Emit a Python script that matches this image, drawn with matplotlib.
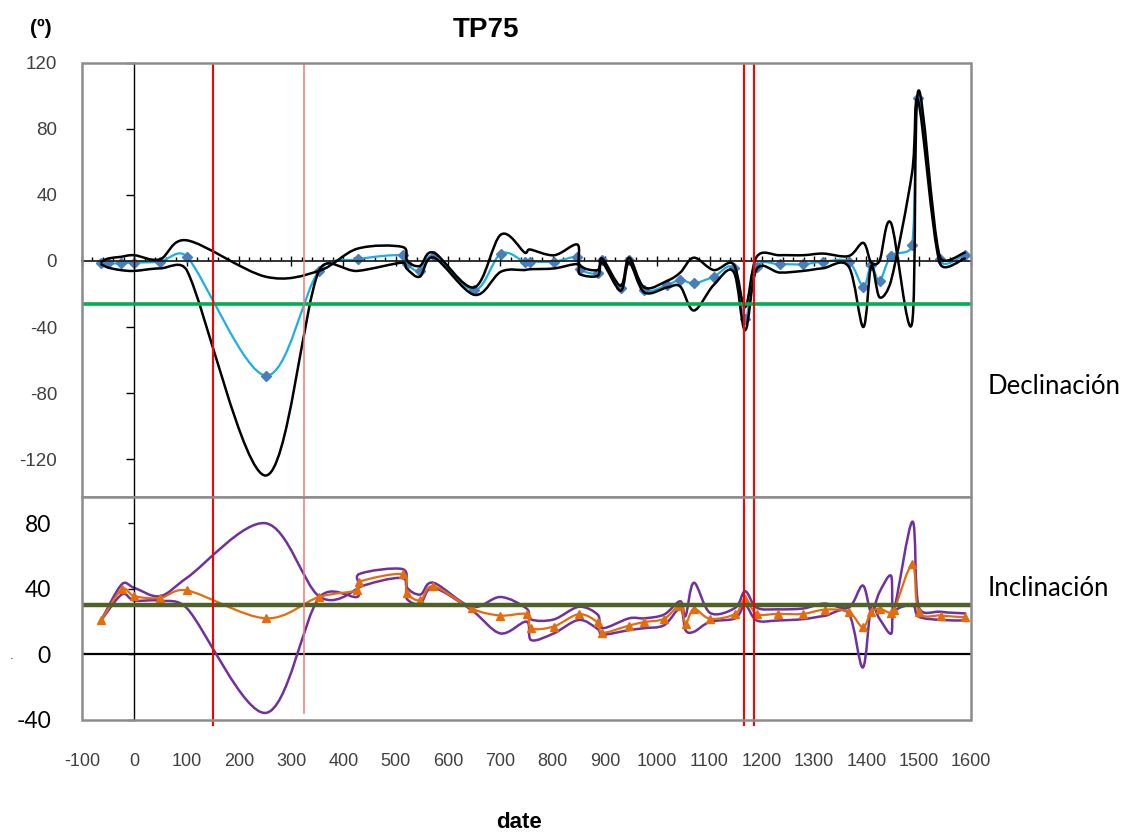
import matplotlib
matplotlib.use("Agg")
import matplotlib.pyplot as plt
import numpy as np
from matplotlib.path import Path
from matplotlib.patches import PathPatch, Rectangle

plt.rcParams['axes.unicode_minus'] = False

# Declination (top panel)
dec_dates = [-63, -50, -26, 0, 49, 101, 251, 353, 427, 513, 522, 546, 573, 650, 701, 747, 756, 803, 847,
             852, 886, 895, 930, 946, 975, 1019, 1044, 1070, 1108, 1146, 1168, 1190, 1234, 1279, 1317,
             1366, 1394, 1409, 1425, 1447, 1487, 1499, 1540, 1588]
dec = [-1, -1.4, -1.4, -1, -0.4, 2.4, -69.4, -6, 1, 3.5, -2, -6, 3, -17.7, 4.5, -0.8, -0.4, -0.4, 2.4,
       -5, -7.5, 0.5, -16.5, 0.6, -17.6, -14.5, -11.4, -13.5, -9.5, -4.4, -35, -3.4, -2, -2, -0.4,
       -0.4, -15.5, -2.6, -12, 3, 9.7, 99, 1, 3.6]
dec_a = [-0.5, 1.5, 2.5, 3.5, 1, 12.5, -9.5, -6, 7.5, 8.5, 0, -3, 5, -16, 16, 5, 7, 3.5, 10,
         -2.5, -5.5, 1.5, -15, 2, -16, -12, -7, 2, -5.5, -2, -28, 2.5, 3.5, 3.5, 4.5,
         3, 11, -1, 0, 23, -38, 103, 3, 5]
dec_b = [-2, -4, -5.5, -6, -4.5, -6, -130, -6, -6, -1, -5, -9.5, 2, -20.5, -6.5, -5.5, -5, -4.5, -2,
         -8, -9, -1, -18, -1, -19, -16, -15.5, -30, -14.5, -6.5, -42, -5, -7, -6, -4.4,
         -3.4, -40, -3, -22, -12, 53, 97, -1, 1.5]

# Inclination (bottom panel)
inc_dates = [-63, -24, 0, 49, 101, 251, 353, 426, 430, 513, 521, 547, 572, 645, 700, 750, 759, 802,
             850, 886, 895, 946, 975, 1013, 1044, 1054, 1070, 1101, 1149, 1168, 1190, 1231, 1279,
             1320, 1366, 1393, 1409, 1425, 1447, 1453, 1488, 1500, 1542, 1589]
inc = [21, 39.6, 35.5, 34.4, 39, 22, 35, 39, 44.3, 48.9, 37.5, 33, 41.6, 28, 23.7, 24.5, 15.9, 17,
       24.5, 19.5, 13.2, 17.6, 19.7, 21.7, 29.8, 18.7, 27.8, 21.7, 24.7, 33.8, 24.7, 24.7, 24.7,
       27.3, 26, 16.6, 25.8, 27.8, 25, 27, 55, 26, 23.7, 22.7]
inc_a = [21, 42.7, 40.6, 35.5, 46.8, 80, 35.5, 40, 49, 52, 41, 36.5, 43.7, 29, 35, 28, 21.3, 21.3,
         29, 24.3, 16, 22, 22, 24.3, 32.4, 23.3, 43.7, 25.3, 28.4, 38.5, 28.5, 27.5, 28,
         31, 28.5, 42, 26, 38, 48, 28, 81, 29, 26, 25]
inc_b = [21, 36.5, 32.8, 32.8, 28, -35.7, 34.4, 35, 41, 46.5, 34, 31, 40.6, 27, 12.8, 20, 8.7, 12.8,
         21, 15.5, 12, 14.8, 16, 17.8, 28, 14.8, 13.8, 19.9, 22, 30, 20.7, 20.7, 21.5,
         23.5, 25, -8, 29, 21.7, 12.6, 26, 30, 23, 21, 20.7]

dec_ref = -26
inc_ref = 30
red_dates = [150, 1165, 1185]
pink_date = 325


def smooth_path(ax, xs, ys):
    # spreadsheet-style smoothed line: Bezier arms of 1/6 of the neighbour chord,
    # capped at half of the segment (computed in screen space)
    pts = ax.transData.transform(np.column_stack([xs, ys]).astype(float))
    ext = np.vstack([pts[0], pts, pts[-1]])
    verts = [pts[0]]
    codes = [Path.MOVETO]
    for i in range(len(pts) - 1):
        p0, p1, p2, p3 = ext[i], ext[i + 1], ext[i + 2], ext[i + 3]
        d12 = np.hypot(*(p2 - p1))
        d02 = np.hypot(*(p2 - p0))
        d13 = np.hypot(*(p3 - p1))
        f1 = min(1 / 6, d12 / (2 * d02)) if d02 > 0 else 0
        f2 = min(1 / 6, d12 / (2 * d13)) if d13 > 0 else 0
        verts += [p1 + (p2 - p0) * f1, p2 - (p3 - p1) * f2, p2]
        codes += [Path.CURVE4] * 3
    verts = ax.transData.inverted().transform(np.array(verts))
    return Path(verts, codes)


def draw_curve(ax, xs, ys, color, lw, z):
    ax.add_patch(PathPatch(smooth_path(ax, xs, ys), fill=False, edgecolor=color, lw=lw,
                           joinstyle='round', capstyle='round', zorder=z))


fig = plt.figure(figsize=(11.42, 8.34), dpi=100)
ax1 = fig.add_axes([0.0718, 0.4041, 0.7785, 0.5204])
ax2 = fig.add_axes([0.0718, 0.1367, 0.7785, 0.2674])

for ax in (ax1, ax2):
    ax.set_xlim(-100, 1600)
    for s in ('top', 'right', 'bottom'):
        ax.spines[s].set_visible(False)
    ax.spines['left'].set_position(('data', 0))
    ax.spines['left'].set_color('black')
    ax.spines['left'].set_linewidth(1)
    ax.add_patch(Rectangle((0, 0), 1, 1, transform=ax.transAxes, fill=False,
                           edgecolor='#8c8c8c', lw=1.8, clip_on=False, zorder=6))

# top panel
ax1.set_ylim(-143, 120)
ax1.spines['bottom'].set_visible(True)
ax1.spines['bottom'].set_position(('data', 0))
ax1.spines['bottom'].set_color('#222222')
ax1.spines['bottom'].set_linewidth(1.3)
ax1.set_xticks(np.arange(-100, 1601, 100))
ax1.set_xticks(np.arange(-100, 1601, 20), minor=True)
ax1.tick_params(axis='x', which='major', direction='inout', length=7, width=1, labelbottom=False)
ax1.tick_params(axis='x', which='minor', direction='in', length=3, width=1)
ax1.set_yticks([-120, -80, -40, 0, 40, 80, 120])
ax1.tick_params(axis='y', direction='out', length=5.5, width=1, pad=50, labelsize=13.5,
                labelcolor='#404040')
for t in ax1.get_yticklabels():
    t.set_family('Liberation Sans')

# bottom panel
ax2.set_ylim(-40, 96)
ax2.set_xticks(np.arange(-100, 1601, 100))
ax2.tick_params(axis='x', length=0, pad=24, labelsize=13, labelcolor='#404040')
for t in ax2.get_xticklabels():
    t.set_family('Liberation Sans')
ax2.set_yticks([-40, 0, 40, 80])
ax2.tick_params(axis='y', direction='out', length=4, width=1, pad=56, labelsize=16.5)
for t in ax2.get_yticklabels():
    t.set_family('Lato')
ax2.axhline(0, color='black', lw=1.6, zorder=1)

# mean declination under its bounds, as in the original series order
draw_curve(ax1, dec_dates, dec, '#1AAFE6', 1.6, 2)
ax1.plot(dec_dates, dec, ls='none', marker='D', ms=5, color='#4A7EBB', zorder=2.5)
draw_curve(ax1, dec_dates, dec_a, 'black', 1.8, 3)
draw_curve(ax1, dec_dates, dec_b, 'black', 1.8, 3)
ax1.axhline(dec_ref, color='#00B050', lw=2.6, zorder=4.5)

draw_curve(ax2, inc_dates, inc_a, '#7030A0', 1.8, 2)
draw_curve(ax2, inc_dates, inc_b, '#7030A0', 1.8, 2)
draw_curve(ax2, inc_dates, inc, '#E46C0A', 1.6, 3)
ax2.plot(inc_dates, inc, ls='none', marker='^', ms=6, color='#E46C0A', zorder=4)
ax2.axhline(inc_ref, color='#4F6228', lw=3.2, zorder=4.5)

# vertical markers
for d in red_dates:
    ax1.axvline(d, color='#FF0000', lw=1.5, zorder=5)
    ax2.axvline(d, ymin=-0.022, color='#FF0000', lw=1.5, zorder=5, clip_on=False)
ax1.axvline(pink_date, color='#F07878', lw=1.1, zorder=5)
ax2.axvline(pink_date, ymin=0.031, color='#F07878', lw=1.1, zorder=5)

fig.text(486 / 1142, 1 - 30 / 834, 'TP75', ha='center', va='center', weight='bold',
         size=20, family='Liberation Sans')
fig.text(41 / 1142, 1 - 28 / 834, '(º)', ha='center', va='center', weight='bold',
         size=15, family='Liberation Sans')
fig.text(519 / 1142, 1 - 822 / 834, 'date', ha='center', va='center', weight='bold',
         size=16, family='Liberation Sans')
fig.text(988 / 1142, 1 - 386 / 834, 'Declinación', ha='left', va='center', size=18.5, family='Lato')
fig.text(988 / 1142, 1 - 588 / 834, 'Inclinación', ha='left', va='center', size=18.5, family='Lato')
fig.text(12 / 1142, 1 - 656 / 834, '.', ha='center', va='center', size=8)

fig.savefig('out.png', dpi=100)
